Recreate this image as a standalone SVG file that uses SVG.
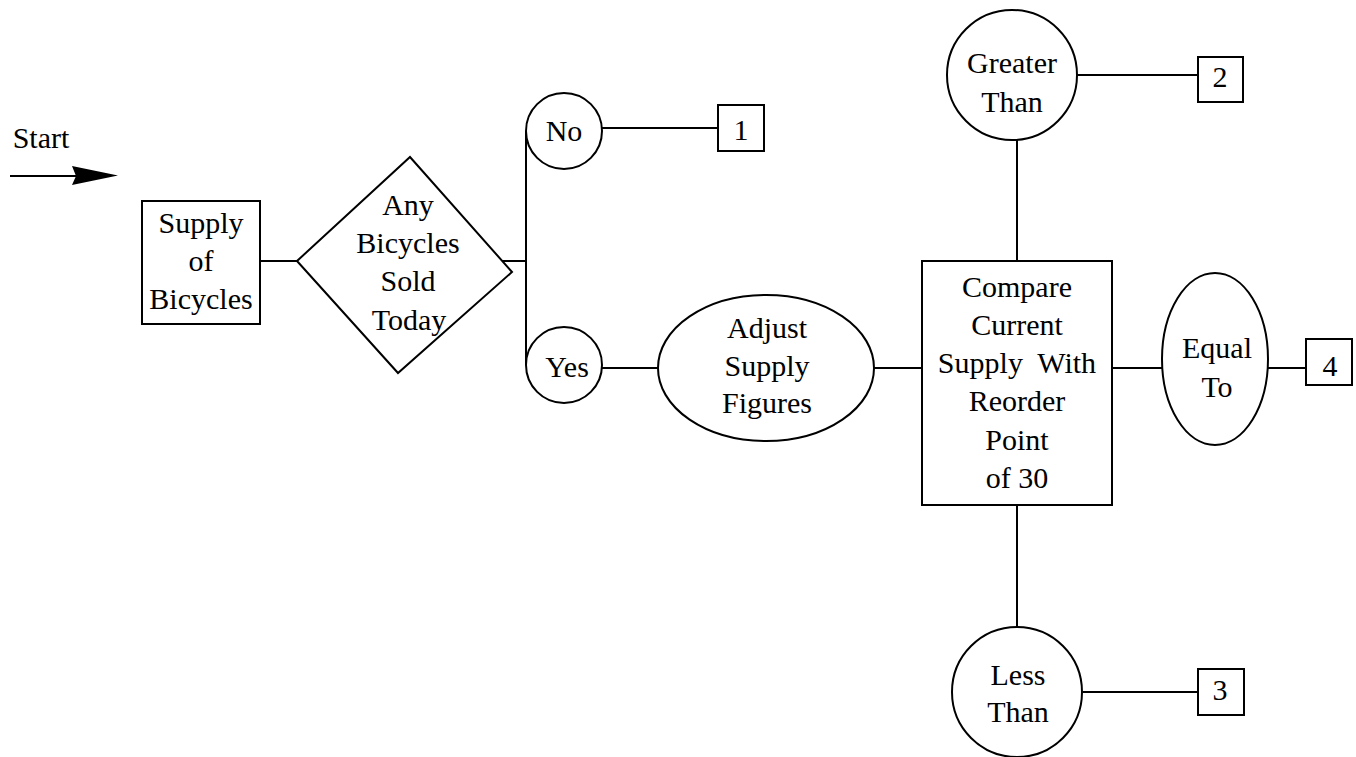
<svg xmlns="http://www.w3.org/2000/svg" width="1356" height="757" viewBox="0 0 1356 757">
<style>
.s{fill:#fff;stroke:#000;stroke-width:2}
.c{stroke:#000;stroke-width:2;fill:none}
text{font-family:"Liberation Serif","Times New Roman",serif;font-size:30px;fill:#000;text-anchor:middle}
</style>
<rect width="1356" height="757" fill="#fff"/>
<g id="connectors">
<line class="c" x1="10" y1="176" x2="80" y2="176"/>
<polygon points="72,166 118,175.5 72,185 76,176" fill="#000"/>
<line class="c" x1="260" y1="261" x2="297" y2="261"/>
<line class="c" x1="502" y1="261" x2="526" y2="261"/>
<line class="c" x1="526" y1="131" x2="526" y2="365"/>
<line class="c" x1="602" y1="128" x2="718" y2="128"/>
<line class="c" x1="602" y1="368" x2="658" y2="368"/>
<line class="c" x1="874" y1="368" x2="922" y2="368"/>
<line class="c" x1="1017" y1="138" x2="1017" y2="261"/>
<line class="c" x1="1017" y1="505" x2="1017" y2="627"/>
<line class="c" x1="1077" y1="75" x2="1198" y2="75"/>
<line class="c" x1="1083" y1="692" x2="1198" y2="692"/>
<line class="c" x1="1112" y1="368" x2="1162" y2="368"/>
<line class="c" x1="1268" y1="368" x2="1306" y2="368"/>
</g>
<g id="start"><text x="41" y="148">Start</text></g>
<g id="supply">
<rect class="s" x="142" y="201" width="118" height="123"/>
<text x="201" y="233">Supply</text><text x="201" y="271">of</text><text x="201" y="309">Bicycles</text>
</g>
<g id="decision">
<polygon class="s" points="297,261 410,157 512,272 398,373"/>
<text x="408" y="215">Any</text><text x="408" y="253">Bicycles</text><text x="408" y="291">Sold</text><text x="409" y="330">Today</text>
</g>
<g id="no">
<circle class="s" cx="564" cy="131" r="38"/>
<text x="564" y="141">No</text>
</g>
<g id="box1"><rect class="s" x="718" y="105" width="46" height="46"/><text x="741" y="140">1</text></g>
<g id="yes">
<circle class="s" cx="564" cy="365" r="38"/>
<text x="567" y="377">Yes</text>
</g>
<g id="adjust">
<ellipse class="s" cx="766" cy="368" rx="108" ry="73"/>
<text x="767" y="338">Adjust</text><text x="767" y="376">Supply</text><text x="767" y="413">Figures</text>
</g>
<g id="compare">
<rect class="s" x="922" y="261" width="190" height="244"/>
<text x="1017" y="297">Compare</text><text x="1017" y="335">Current</text><text x="1017" y="373" xml:space="preserve">Supply  With</text><text x="1017" y="411">Reorder</text><text x="1017" y="450">Point</text><text x="1017" y="488">of 30</text>
</g>
<g id="greater">
<circle class="s" cx="1012" cy="75" r="65"/>
<text x="1012" y="73">Greater</text><text x="1012" y="112">Than</text>
</g>
<g id="box2"><rect class="s" x="1198" y="57" width="45" height="45"/><text x="1220" y="87">2</text></g>
<g id="less">
<circle class="s" cx="1017" cy="692" r="65"/>
<text x="1018" y="685">Less</text><text x="1018" y="722">Than</text>
</g>
<g id="box3"><rect class="s" x="1198" y="669" width="46" height="46"/><text x="1220" y="700">3</text></g>
<g id="equal">
<ellipse class="s" cx="1215" cy="359" rx="53" ry="86"/>
<text x="1217" y="358">Equal</text><text x="1217" y="397">To</text>
</g>
<g id="box4"><rect class="s" x="1306" y="339" width="46" height="46"/><text x="1330" y="376">4</text></g>
</svg>
